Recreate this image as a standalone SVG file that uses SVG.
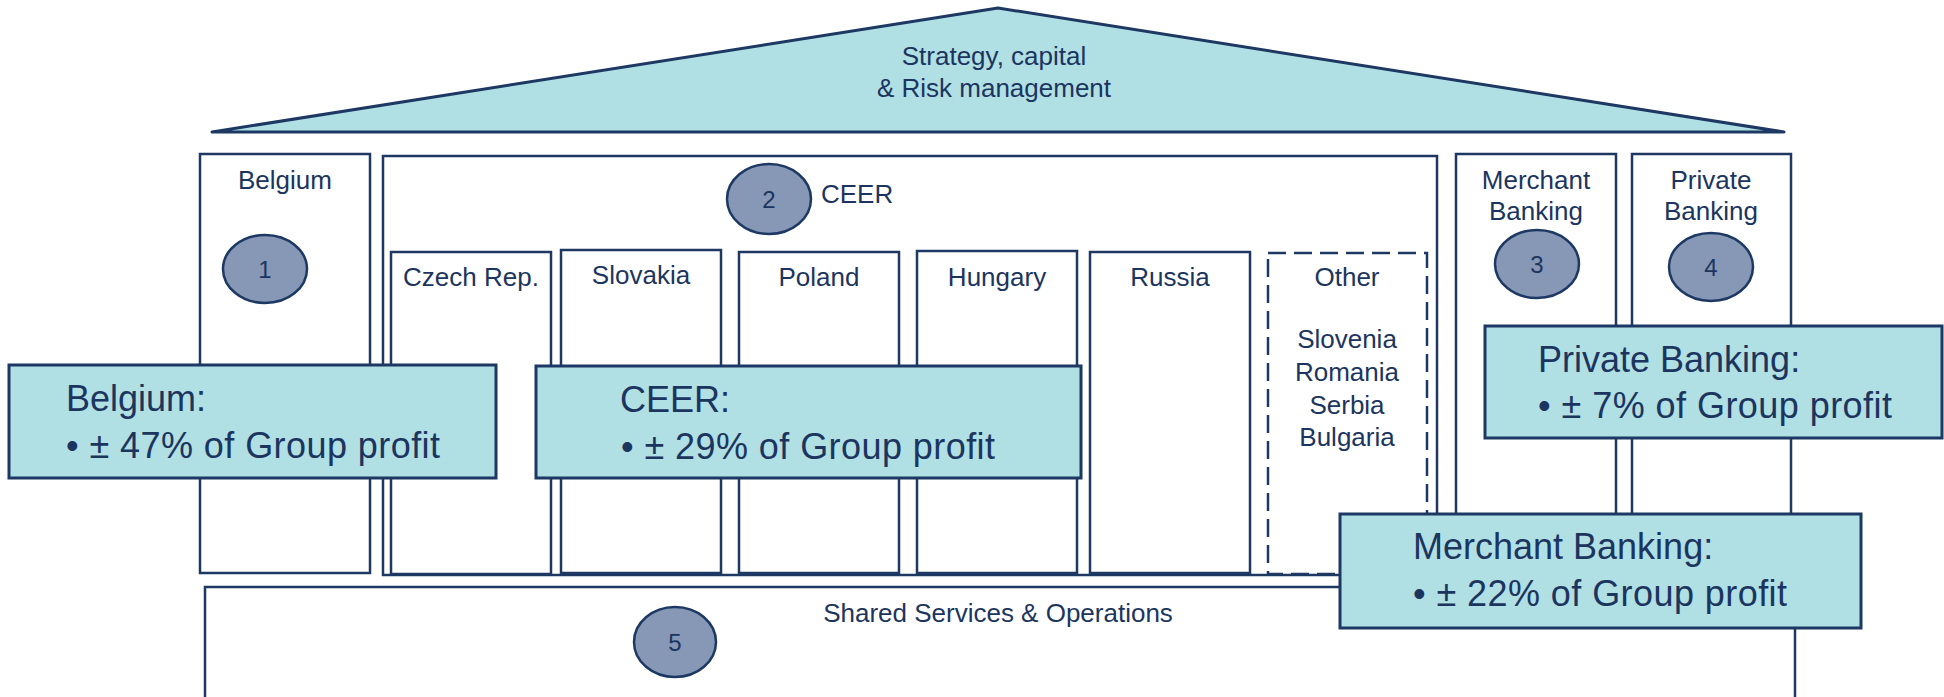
<svg xmlns="http://www.w3.org/2000/svg" width="1944" height="697" viewBox="0 0 1944 697">
  <style>
    .box { fill: #ffffff; stroke: #1d3862; stroke-width: 2.5; }
    .dash { fill: none; stroke: #1d3862; stroke-width: 2.5; stroke-dasharray: 18 8; }
    .callout { fill: #b0dfe4; stroke: #1d3862; stroke-width: 3; }
    .badge { fill: #8698b6; stroke: #1d3862; stroke-width: 2.5; }
    .lbl { font-family: "Liberation Sans", Arial, sans-serif; font-size: 26px; fill: #1c355e; text-anchor: middle; }
    .lbl-start { font-family: "Liberation Sans", Arial, sans-serif; font-size: 26px; fill: #1c355e; text-anchor: start; }
    .num { font-family: "Liberation Sans", Arial, sans-serif; font-size: 24px; fill: #1c355e; text-anchor: middle; }
    .big { font-family: "Liberation Sans", Arial, sans-serif; font-size: 36px; fill: #1c355e; }
  </style>

  <!-- roof -->
  <g id="roof">
    <polygon points="212,132 998,8 1784,132" fill="#b0dfe4" stroke="#1d3862" stroke-width="3" stroke-linejoin="round"/>
    <text class="lbl" x="994" y="65">Strategy, capital</text>
    <text class="lbl" x="994" y="97">&amp; Risk management</text>
  </g>

  <!-- shared services base -->
  <g id="shared">
    <rect class="box" x="205" y="587" width="1590" height="130"/>
    <text class="lbl" x="998" y="622">Shared Services &amp; Operations</text>
    <ellipse class="badge" cx="675" cy="642" rx="41" ry="35"/>
    <text class="num" x="675" y="651">5</text>
  </g>

  <!-- Belgium pillar -->
  <g id="belgium">
    <rect class="box" x="200" y="154" width="170" height="419"/>
    <text class="lbl" x="285" y="189">Belgium</text>
    <ellipse class="badge" cx="265" cy="269" rx="42" ry="34"/>
    <text class="num" x="265" y="278">1</text>
  </g>

  <!-- CEER pillar -->
  <g id="ceer">
    <rect class="box" x="383" y="156" width="1054" height="419" stroke-width="3"/>
    <ellipse class="badge" cx="769" cy="199" rx="42" ry="35"/>
    <text class="num" x="769" y="208">2</text>
    <text class="lbl-start" x="821" y="203">CEER</text>
  </g>

  <g id="czech">
    <rect class="box" x="391" y="252" width="160" height="322"/>
    <text class="lbl" x="471" y="286">Czech Rep.</text>
  </g>
  <g id="slovakia">
    <rect class="box" x="561" y="250" width="160" height="323"/>
    <text class="lbl" x="641" y="284">Slovakia</text>
  </g>
  <g id="poland">
    <rect class="box" x="739" y="252" width="160" height="321"/>
    <text class="lbl" x="819" y="286">Poland</text>
  </g>
  <g id="hungary">
    <rect class="box" x="917" y="251" width="160" height="322"/>
    <text class="lbl" x="997" y="286">Hungary</text>
  </g>
  <g id="russia">
    <rect class="box" x="1090" y="252" width="160" height="321"/>
    <text class="lbl" x="1170" y="286">Russia</text>
  </g>
  <g id="other">
    <rect class="dash" x="1268" y="253" width="159" height="321"/>
    <text class="lbl" x="1347" y="286">Other</text>
    <text class="lbl" x="1347" y="348">Slovenia</text>
    <text class="lbl" x="1347" y="381">Romania</text>
    <text class="lbl" x="1347" y="414">Serbia</text>
    <text class="lbl" x="1347" y="446">Bulgaria</text>
  </g>

  <!-- Merchant Banking pillar -->
  <g id="merchant">
    <rect class="box" x="1456" y="154" width="160" height="420"/>
    <text class="lbl" x="1536" y="189">Merchant</text>
    <text class="lbl" x="1536" y="220">Banking</text>
    <ellipse class="badge" cx="1537" cy="264" rx="42" ry="34"/>
    <text class="num" x="1537" y="273">3</text>
  </g>

  <!-- Private Banking pillar -->
  <g id="private">
    <rect class="box" x="1632" y="154" width="159" height="420"/>
    <text class="lbl" x="1711" y="189">Private</text>
    <text class="lbl" x="1711" y="220">Banking</text>
    <ellipse class="badge" cx="1711" cy="267" rx="42" ry="34"/>
    <text class="num" x="1711" y="276">4</text>
  </g>

  <!-- profit share callouts -->
  <g id="callout-belgium">
    <rect class="callout" x="9" y="365" width="487" height="113"/>
    <text class="big" x="66" y="411">Belgium:</text>
    <text class="big" x="66" y="458" textLength="374">• ± 47% of Group profit</text>
  </g>
  <g id="callout-ceer">
    <rect class="callout" x="536" y="366" width="545" height="112"/>
    <text class="big" x="620" y="412">CEER:</text>
    <text class="big" x="621" y="459" textLength="374">• ± 29% of Group profit</text>
  </g>
  <g id="callout-private">
    <rect class="callout" x="1485" y="326" width="457" height="112"/>
    <text class="big" x="1538" y="372">Private Banking:</text>
    <text class="big" x="1538" y="418" textLength="354">• ± 7% of Group profit</text>
  </g>
  <g id="callout-merchant">
    <rect class="callout" x="1340" y="514" width="521" height="114"/>
    <text class="big" x="1413" y="559">Merchant Banking:</text>
    <text class="big" x="1413" y="606" textLength="374">• ± 22% of Group profit</text>
  </g>

  <g id="connectors"/>
</svg>
